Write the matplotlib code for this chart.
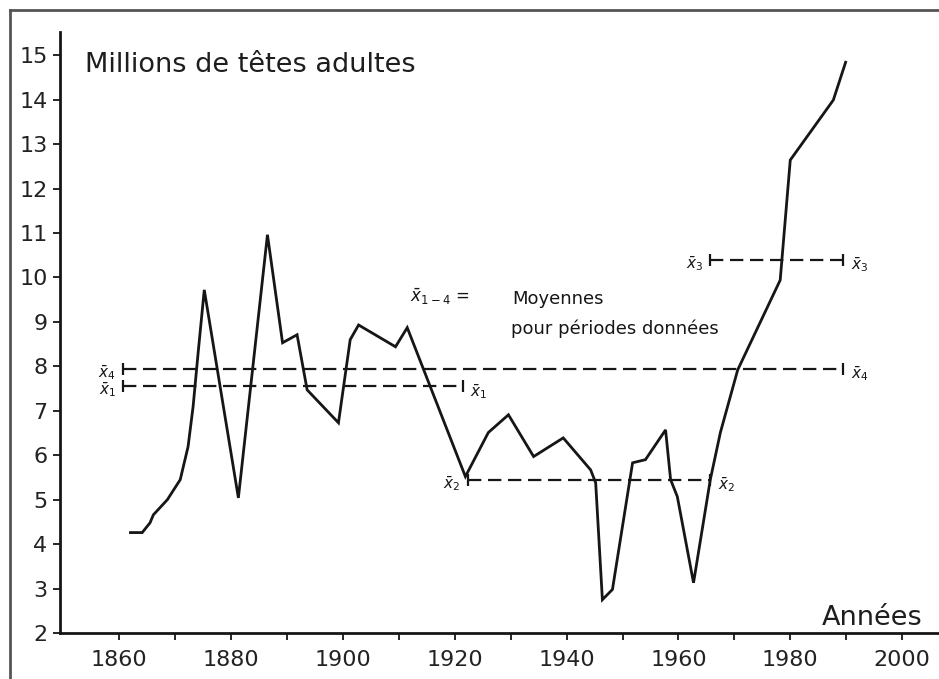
import matplotlib.pyplot as plt
from matplotlib.lines import Line2D

# effectif (millions de têtes adultes)
annees = [1862.0, 1864.1, 1865.5, 1866.1, 1868.6, 1870.9, 1872.3, 1873.2, 1874.1,
          1875.2, 1881.3, 1886.5, 1889.2, 1891.8, 1893.6, 1899.2, 1901.3, 1902.8,
          1909.4, 1911.5, 1921.9, 1926.0, 1929.6, 1934.1, 1939.4, 1944.3, 1945.2,
          1946.4, 1948.2, 1951.8, 1954.1, 1957.7, 1958.6, 1959.8, 1962.7, 1965.7,
          1967.5, 1970.6, 1978.2, 1980.0, 1987.7, 1989.9]
tetes = [4.26, 4.26, 4.48, 4.66, 5.00, 5.45, 6.19, 7.09, 8.30,
         9.72, 5.04, 10.96, 8.53, 8.71, 7.47, 6.73, 8.60, 8.93,
         8.44, 8.87, 5.52, 6.51, 6.91, 5.97, 6.39, 5.67, 5.38,
         2.75, 2.98, 5.83, 5.90, 6.57, 5.45, 5.07, 3.13, 5.45,
         6.51, 7.92, 9.94, 12.64, 13.99, 14.84]

# moyennes pour périodes données
periodes = ['1', '2', '3', '4']
debut = [1860.7, 1922.3, 1965.7, 1860.7]
fin = [1921.5, 1965.7, 1989.5, 1989.5]
moyennes = [7.55, 5.45, 10.40, 7.95]

ticks_x = [1860, 1880, 1900, 1920, 1940, 1960, 1980, 2000]
ticks_y = list(range(2, 16))

encre = '#161616'

fig = plt.figure(figsize=(9.39, 6.79), dpi=100)
ax = fig.add_axes([0.0639, 0.0677, 0.9361, 0.8851])

ax.plot(annees, tetes, color=encre, lw=2.0, solid_joinstyle='miter')

for p, d, f, m in zip(periodes, debut, fin, moyennes):
    ax.plot([d, f], [m, m], color=encre, lw=1.6, dashes=(6, 3))
    ax.plot([d, f], [m, m], ls='none', marker='|', ms=9, mew=1.6, color=encre)
    lab = r'$\bar{x}_{%s}$' % p
    ax.text(d - 1.3, m - 0.08, lab, ha='right', va='center', fontsize=11, color=encre)
    ax.text(f + 1.3, m - 0.12, lab, ha='left', va='center', fontsize=11, color=encre)

ax.text(1912.0, 9.56, r'$\bar{x}_{1-4}$ =', ha='left', va='center', fontsize=12, color=encre)
ax.text(1930.3, 9.52, 'Moyennes', ha='left', va='center', fontsize=13, color=encre)
ax.text(1930.0, 8.84, 'pour périodes données', ha='left', va='center', fontsize=13, color=encre)

ax.set_xlim(1849.4, 2006.6)
ax.set_ylim(2, 15.52)
ax.set_xticks(ticks_x)
ax.set_xticks(range(1870, 2000, 20), minor=True)
ax.set_yticks(ticks_y)
ax.tick_params(axis='both', labelsize=16, labelcolor='#222222', color=encre,
               direction='out', length=5, width=1.3, pad=4)
ax.tick_params(axis='x', which='minor', direction='out', length=5, width=1.3, color=encre)
ax.tick_params(axis='x', pad=7)

for s in ['top', 'right']:
    ax.spines[s].set_visible(False)
for s in ['left', 'bottom']:
    ax.spines[s].set_linewidth(2.0)
    ax.spines[s].set_color(encre)

fig.text(85 / 939, 1 - 72 / 679, 'Millions de têtes adultes', ha='left', va='baseline',
         fontsize=19.5, color='#1e1e1e')
fig.text(923 / 939, 1 - 625 / 679, 'Années', ha='right', va='baseline',
         fontsize=19.5, color='#1e1e1e')

# cadre du scan
fig.add_artist(Line2D([10 / 939, 1], [1 - 10 / 679, 1 - 10 / 679], color='#555555', lw=2))
fig.add_artist(Line2D([10 / 939, 10 / 939], [0, 1 - 10 / 679], color='#555555', lw=2))

fig.savefig('out.png', dpi=100)
